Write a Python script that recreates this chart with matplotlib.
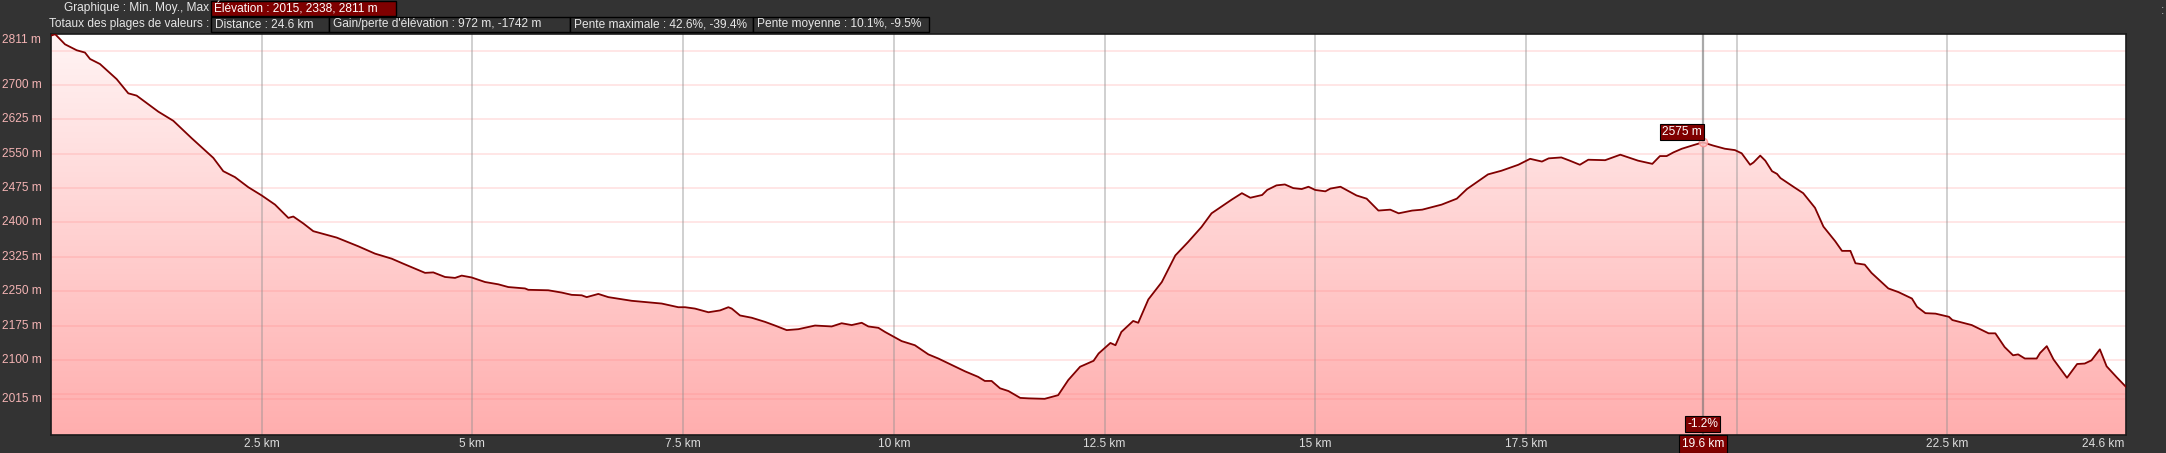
import matplotlib
matplotlib.use("Agg")
import matplotlib.pyplot as plt
import numpy as np
from matplotlib.colors import LinearSegmentedColormap
from matplotlib.patches import Polygon, Rectangle
from matplotlib.transforms import blended_transform_factory
from matplotlib import font_manager

# ---------------- data ----------------
dist_km = [0.0, 0.05, 0.166, 0.305, 0.403, 0.463, 0.581, 0.779, 0.917, 1.016, 1.273, 1.451, 1.669,
           1.926, 2.044, 2.183, 2.341, 2.5, 2.658, 2.816, 2.875, 2.993, 3.112, 3.39, 3.646, 3.844,
           4.042, 4.18, 4.438, 4.536, 4.675, 4.794, 4.873, 4.99, 5.15, 5.307, 5.426, 5.624, 5.663,
           5.9, 6.059, 6.178, 6.297, 6.356, 6.494, 6.613, 6.89, 7.246, 7.443, 7.523, 7.641, 7.8,
           7.938, 8.037, 8.077, 8.175, 8.314, 8.472, 8.59, 8.729, 8.867, 9.065, 9.263, 9.381, 9.5,
           9.619, 9.698, 9.817, 9.896, 10.014, 10.093, 10.25, 10.41, 10.528, 10.845, 11.0, 11.08,
           11.16, 11.26, 11.36, 11.5, 11.6, 11.79, 11.95, 12.07, 12.21, 12.37, 12.43, 12.57, 12.63,
           12.70, 12.84, 12.9, 13.02, 13.18, 13.34, 13.49, 13.65, 13.77, 14.01, 14.13, 14.23, 14.37,
           14.43, 14.54, 14.64, 14.74, 14.84, 14.92, 15.0, 15.12, 15.18, 15.3, 15.49, 15.61, 15.75,
           15.89, 15.99, 16.15, 16.27, 16.5, 16.68, 16.8, 17.05, 17.21, 17.41, 17.55, 17.69, 17.77,
           17.92, 18.02, 18.14, 18.24, 18.44, 18.62, 18.83, 19.0, 19.09, 19.17, 19.25, 19.35, 19.49,
           19.6, 19.72, 19.86, 19.98, 20.06, 20.16, 20.2, 20.28, 20.34, 20.42, 20.48, 20.52, 20.69,
           20.79, 20.93, 21.03, 21.17, 21.25, 21.35, 21.41, 21.52, 21.6, 21.8, 21.92, 22.08, 22.14,
           22.24, 22.36, 22.52, 22.56, 22.79, 22.99, 23.07, 23.18, 23.28, 23.34, 23.42, 23.56, 23.6,
           23.68, 23.76, 23.92, 24.04, 24.13, 24.21, 24.31, 24.39, 24.51, 24.62]
elev_m = [2808, 2811, 2789, 2776, 2771, 2757, 2746, 2713, 2682, 2677, 2642, 2622, 2584,
          2541, 2512, 2499, 2477, 2459, 2439, 2410, 2413, 2398, 2381, 2367, 2348, 2332,
          2321, 2310, 2290, 2291, 2281, 2279, 2284, 2280, 2270, 2265, 2259, 2256, 2253,
          2252, 2247, 2242, 2241, 2237, 2244, 2237, 2229, 2223, 2215, 2215, 2212, 2204,
          2208, 2215, 2212, 2197, 2192, 2183, 2175, 2165, 2167, 2175, 2173, 2180, 2176,
          2181, 2173, 2170, 2161, 2149, 2141, 2132, 2112, 2103, 2075, 2063, 2054,
          2054, 2038, 2032, 2017, 2016, 2015, 2023, 2056, 2085, 2098, 2114, 2137, 2132,
          2161, 2185, 2181, 2232, 2270, 2328, 2357, 2390, 2420, 2450, 2464, 2454, 2460,
          2471, 2481, 2483, 2475, 2473, 2478, 2471, 2468, 2474, 2478, 2459, 2452, 2426,
          2428, 2420, 2426, 2428, 2439, 2452, 2473, 2505, 2513, 2526, 2539, 2533, 2540,
          2542, 2535, 2526, 2537, 2536, 2548, 2535, 2528, 2545, 2545, 2553, 2561, 2569,
          2575, 2568, 2561, 2558, 2551, 2526, 2531, 2546, 2535, 2512, 2506, 2497, 2476,
          2464, 2432, 2391, 2359, 2338, 2338, 2311, 2308, 2290, 2256, 2248, 2234, 2216,
          2202, 2201, 2194, 2187, 2176, 2158, 2158, 2128, 2110, 2112, 2103, 2103, 2115,
          2130, 2101, 2061, 2091, 2092, 2099, 2123, 2086, 2062, 2041]

y_tick_values = [2811, 2700, 2625, 2550, 2475, 2400, 2325, 2250, 2175, 2100, 2015]
y_grid_values = [2015, 2025, 2100, 2175, 2250, 2325, 2400, 2475, 2550, 2625, 2700, 2775]
x_tick_values = [2.5, 5, 7.5, 10, 12.5, 15, 17.5, 22.5, 24.6]
x_tick_labels = ["2.5 km", "5 km", "7.5 km", "10 km", "12.5 km", "15 km", "17.5 km", "22.5 km", "24.6 km"]
x_grid_values = [2.5, 5, 7.5, 10, 12.5, 15, 17.5, 20, 22.5]
cursor_km = 19.6
cursor_elev = 2575
cursor_slope = "-1.2%"

header_row1_label = "Graphique : Min. Moy., Max"
header_row1_box = "Élévation : 2015, 2338, 2811 m"
header_row2_label = "Totaux des plages de valeurs :"
header_row2_boxes = ["Distance : 24.6 km", "Gain/perte d'élévation : 972 m, -1742 m",
                     "Pente maximale : 42.6%, -39.4%", "Pente moyenne : 10.1%, -9.5%"]

# ---------------- style ----------------
W, H = 2166, 453
BG = "#333333"
DARKRED = "#7f0000"
installed = {f.name for f in font_manager.fontManager.ttflist}
if "Liberation Sans Narrow" in installed:
    FONT = ["Liberation Sans Narrow", "DejaVu Sans"]
    FS = 10.0
else:
    FONT = ["Liberation Sans", "DejaVu Sans"]
    FS = 8.6
plt.rcParams["font.family"] = FONT

fig = plt.figure(figsize=(W / 100, H / 100), dpi=100, facecolor=BG)

def fx(px):
    return px / W

def fy(py):
    return 1 - py / H

left, right, top, bottom = 51, 2126, 34, 435
ax = fig.add_axes([fx(left), fy(bottom), fx(right - left), (bottom - top) / H])
ax.set_facecolor("white")
YMIN, YMAX = 1936, 2811.5
XMAX = 24.62

# gradient fill under the profile (light at top, stronger pink at bottom)
cmap = LinearSegmentedColormap.from_list("elev", ["#fff4f4", "#ffaeae"])
grad = np.linspace(1, 0, 256).reshape(-1, 1)
im = ax.imshow(grad, extent=[0, XMAX, YMIN, YMAX], aspect="auto", cmap=cmap, zorder=1,
               origin="lower", interpolation="bilinear", vmin=0, vmax=1)
verts = [(dist_km[0], YMIN)] + list(zip(dist_km, elev_m)) + [(dist_km[-1], YMIN)]
clip = Polygon(verts, closed=True, facecolor="none", edgecolor="none")
ax.add_patch(clip)
im.set_clip_path(clip)
ax.set_xlim(0, XMAX)
ax.set_ylim(YMIN, YMAX)

# grid lines
for v in y_grid_values:
    ax.axhline(v, color="#ff7878", alpha=0.2, lw=1.3, zorder=2)
for v in x_grid_values:
    ax.axvline(v, color="#909090", alpha=0.45, lw=1.3, zorder=2)
ax.axvline(cursor_km, color="#707070", alpha=0.6, lw=1.6, zorder=2)

# profile line
ax.plot(dist_km, elev_m, color="#800000", lw=1.3, zorder=4, solid_joinstyle="round")

# cursor marker
ax.plot([cursor_km], [cursor_elev], marker="o", ms=6, mfc="#ffc8c8", mec="#ff8c8c",
        mew=1.0, alpha=0.8, zorder=5)

ax.set_xticks([])
ax.set_yticks([])
for s in ax.spines.values():
    s.set_color("#1a1a1a")
    s.set_linewidth(1.2)

# y tick labels (left aligned in figure margin)
ytr = blended_transform_factory(fig.transFigure, ax.transData)
for v in y_tick_values:
    va = "center"
    if v == max(y_tick_values):
        va = "top"
    fig.text(fx(2), v, f"{v} m", transform=ytr, ha="left", va=va, color="#f4b4b4",
             fontsize=FS)

# x tick labels
xtr = blended_transform_factory(ax.transData, fig.transFigure)
for v, lab in zip(x_tick_values, x_tick_labels):
    ha = "center"
    if v == x_tick_values[-1]:
        ha = "right"
    fig.text(v, fy(444), lab, transform=xtr, ha=ha, va="center", color="#dcdcdc", fontsize=FS)

# cursor labels
box = dict(boxstyle="square,pad=0.18", fc=DARKRED, ec="black", lw=0.8)
ax.annotate(f"{cursor_elev} m", xy=(cursor_km, cursor_elev), xytext=(-1, 3),
            textcoords="offset points", ha="right", va="bottom", color="white",
            fontsize=FS, bbox=box, zorder=6)
ax.annotate(cursor_slope, xy=(cursor_km, 0), xycoords=("data", "axes fraction"),
            xytext=(0, 8), textcoords="offset points", ha="center", va="center",
            color="white", fontsize=FS, bbox=box, zorder=6, annotation_clip=False)
fig.text(cursor_km, fy(444), f"{cursor_km} km", transform=xtr, ha="center", va="center",
         color="white", fontsize=FS,
         bbox=dict(boxstyle="square,pad=0.25", fc=DARKRED, ec="black", lw=0.8))

# header
def header_box(x0, x1, y0, y1, fc):
    fig.patches.append(Rectangle((fx(x0), fy(y1)), fx(x1 - x0), (y1 - y0) / H,
                                 transform=fig.transFigure, facecolor=fc,
                                 edgecolor="black", lw=1.0))

fig.text(fx(209), fy(8.5), header_row1_label, ha="right", va="center", color="#e6e6e6", fontsize=FS)
header_box(211, 396, 1, 16, DARKRED)
fig.text(fx(214), fy(8.5), header_row1_box, ha="left", va="center", color="white", fontsize=FS)

fig.text(fx(209), fy(24.5), header_row2_label, ha="right", va="center", color="#e6e6e6", fontsize=FS)
edges = [211, 329, 570, 753, 929]
for i, lab in enumerate(header_row2_boxes):
    header_box(edges[i], edges[i + 1], 17, 32, BG)
    fig.text(fx(edges[i] + 4), fy(24.5), lab, ha="left", va="center", color="#e6e6e6",
             fontsize=FS)

fig.text(fx(2162), fy(11), ":", ha="center", va="center", color="#bbbbbb", fontsize=FS)

fig.savefig("out.png", dpi=100, facecolor=BG)
